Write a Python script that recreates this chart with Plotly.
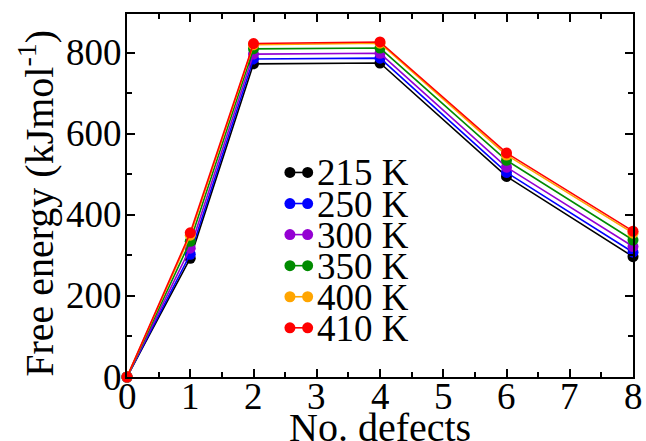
import plotly.graph_objects as go

defects = [0, 1, 2, 4, 6, 8]
temps = ["215 K", "250 K", "300 K", "350 K", "400 K", "410 K"]
colors = ["#000000", "#0000ff", "#9400d3", "#008b00", "#ffa500", "#ff0000"]
e215 = [0, 293, 773, 775, 495, 297]
e250 = [0, 303, 785, 787, 505, 308]
e300 = [0, 318, 797, 799, 518, 322]
e350 = [0, 335, 810, 812, 535, 338]
e400 = [0, 350, 820, 824, 548, 355]
e410 = [0, 356, 823, 827, 553, 360]
series = [e215, e250, e300, e350, e400, e410]
ytick_vals = [0, 200, 400, 600, 800]
xtick_vals = [0, 1, 2, 3, 4, 5, 6, 7, 8]

FONT = "Liberation Serif"
fig = go.Figure()
for name, col, vals in zip(temps, colors, series):
    fig.add_trace(go.Scatter(
        x=defects, y=vals, mode="lines+markers", name=name,
        line=dict(color=col, width=1.6),
        marker=dict(color=col, size=11),
        showlegend=False, cliponaxis=False,
    ))

# custom legend (tight line spacing as in the original)
leg_x = [0.322, 0.357]
leg_top = 0.5635
leg_step = 0.0856
for i, (name, col) in enumerate(zip(temps, colors)):
    yy = leg_top - i * leg_step
    fig.add_trace(go.Scatter(
        x=leg_x, y=[yy, yy], xaxis="x2", yaxis="y2", mode="lines+markers",
        line=dict(color=col, width=1.6), marker=dict(color=col, size=11),
        showlegend=False, hoverinfo="skip",
    ))
    fig.add_annotation(
        x=0.372, y=yy, xref="paper", yref="paper", text=name,
        showarrow=False, xanchor="left", yanchor="middle", height=30,
        font=dict(family=FONT, size=37, color="black"),
    )

# tick labels placed close to the axis lines (as in the original)
for v in ytick_vals:
    fig.add_annotation(
        x=0, y=v, xref="paper", yref="y", text=str(v),
        showarrow=False, xanchor="right", yanchor="middle", xshift=-3,
        font=dict(family=FONT, size=37, color="black"),
    )
for v in xtick_vals:
    fig.add_annotation(
        x=v, y=0, xref="x", yref="paper", text=str(v),
        showarrow=False, xanchor="center", yanchor="middle", yshift=-19, height=30,
        font=dict(family=FONT, size=37, color="black"),
    )

# axis titles
fig.add_annotation(
    x=0.5, y=0, xref="paper", yref="paper", text="No. defects",
    showarrow=False, xanchor="center", yanchor="middle", yshift=-50, height=34,
    font=dict(family=FONT, size=40, color="black"),
)
fig.add_annotation(
    x=0, y=0.477, xref="paper", yref="paper", text="Free energy (kJmol<sup>-1</sup>)",
    showarrow=False, xanchor="center", yanchor="middle", xshift=-90, textangle=-90,
    font=dict(family=FONT, size=40, color="black"),
)

axis_common = dict(
    showline=True, linecolor="black", linewidth=2, mirror="ticks",
    ticks="inside", ticklen=8, tickwidth=1.5, tickcolor="black",
    showgrid=False, zeroline=False, automargin=False, showticklabels=False,
)
fig.update_layout(
    width=646, height=441,
    margin=dict(l=127, r=13, t=14, b=64),
    paper_bgcolor="white", plot_bgcolor="white",
    xaxis=dict(
        range=[0, 8], tickvals=xtick_vals,
        minor=dict(dtick=0.5, ticks="inside", ticklen=5, tickwidth=1.5, tickcolor="black"),
        **axis_common,
    ),
    yaxis=dict(
        range=[0, 896], tickvals=ytick_vals,
        minor=dict(dtick=100, ticks="inside", ticklen=5, tickwidth=1.5, tickcolor="black"),
        **axis_common,
    ),
    xaxis2=dict(overlaying="x", range=[0, 1], visible=False, fixedrange=True),
    yaxis2=dict(overlaying="y", range=[0, 1], visible=False, fixedrange=True),
)
fig.write_html("out.html")
